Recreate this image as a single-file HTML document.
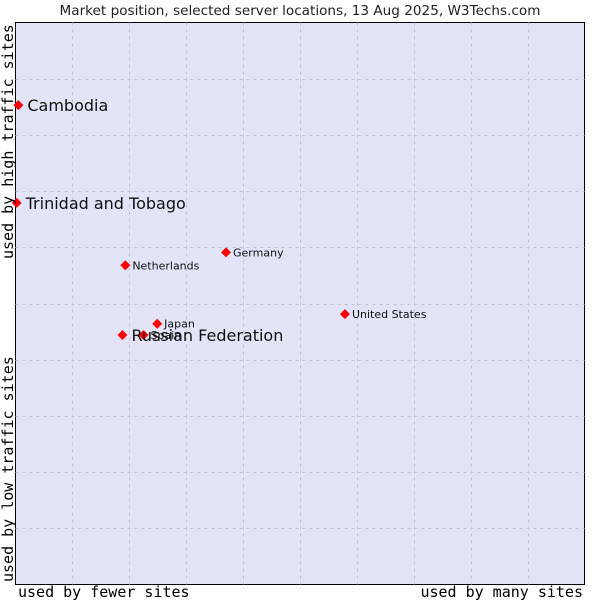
<!DOCTYPE html>
<html><head><meta charset="utf-8"><style>body{margin:0;background:#fff}svg{display:block}</style></head>
<body>
<svg width="600" height="600" xmlns="http://www.w3.org/2000/svg">
<text x="300" y="15" text-anchor="middle" font-family="DejaVu Sans, sans-serif" font-size="13.6" fill="#222">Market position, selected server locations, 13 Aug 2025, W3Techs.com</text>
<rect x="15.5" y="22.5" width="569" height="562" fill="#e4e4f8" stroke="#000" stroke-width="1"/>
<g id="grid"></g>
<g id="pts"></g>
<text transform="translate(13,259) rotate(-90)" font-family="DejaVu Sans Mono, monospace" font-size="15" fill="#000">used by high traffic sites</text>
<text transform="translate(13,582) rotate(-90)" font-family="DejaVu Sans Mono, monospace" font-size="15" fill="#000">used by low traffic sites</text>
<text x="18" y="597" font-family="DejaVu Sans Mono, monospace" font-size="15" fill="#000">used by fewer sites</text>
<text x="583" y="597" text-anchor="end" font-family="DejaVu Sans Mono, monospace" font-size="15" fill="#000">used by many sites</text>
</svg>
<script>
const names=["Cambodia","Trinidad and Tobago","Netherlands","Germany","United States","Spain","Japan","Russian Federation"];
const xs=[0.5,0.2,19.3,37,57.9,22.5,24.9,18.8];
const ys=[85.3,67.9,56.8,59.1,48.1,44.4,46.4,44.4];
const big=[true,true,false,false,false,false,false,true];
const NS="http://www.w3.org/2000/svg";
const X0=15.5,X1=584.5,Y0=584.5,Y1=22.5;
const sx=v=>X0+(X1-X0)*v/100, sy=v=>Y0-(Y0-Y1)*v/100;
const g=document.getElementById('grid');
for(let i=1;i<10;i++){
 const l=document.createElementNS(NS,'line');
 
 
 const x=Math.round(sx(i*10))+0.5;
 l.setAttribute('x1',x);l.setAttribute('x2',x);l.setAttribute('y1',Y1);l.setAttribute('y2',Y0);
 l.setAttribute('stroke','#c0c0c8');l.setAttribute('stroke-dasharray','3,4');g.appendChild(l);
 const m=document.createElementNS(NS,'line');
 
 
 const y=Math.round(sy(i*10))+0.5;
 m.setAttribute('x1',X0);m.setAttribute('x2',X1);m.setAttribute('y1',y);m.setAttribute('y2',y);
 m.setAttribute('stroke','#c0c0c8');m.setAttribute('stroke-dasharray','3,4');g.appendChild(m);
}
const p=document.getElementById('pts');
names.forEach((n,i)=>{
 const x=sx(xs[i]),y=sy(ys[i]);
 const d=document.createElementNS(NS,'path');
 
 
 d.setAttribute('d',`M${x-5},${y}L${x},${y-5}L${x+5},${y}L${x},${y+5}Z`);
 d.setAttribute('fill','#f00');p.appendChild(d);
 const t=document.createElementNS(NS,'text');
 
 
 t.setAttribute('x',x+(big[i]?9:7));t.setAttribute('y',y+(big[i]?6:4));
 t.setAttribute('font-family','DejaVu Sans, sans-serif');
 t.setAttribute('font-size',big[i]?'16':'11');t.setAttribute('fill','#111');
 t.textContent=n;p.appendChild(t);
});
</script>
</body></html>
